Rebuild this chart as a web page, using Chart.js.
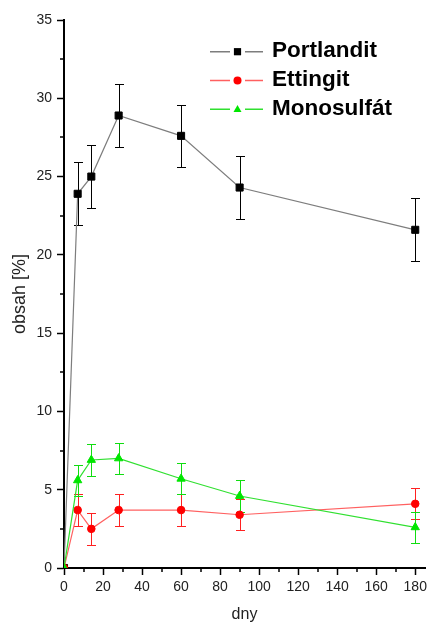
<!DOCTYPE html>
<html>
<head>
<meta charset="utf-8">
<title>obsah [%]</title>
<script src="https://cdn.jsdelivr.net/npm/chart.js@4.4.0/dist/chart.umd.min.js"></script>
<style>
    html, body { margin: 0; padding: 0; background: #fff; }
    #chart { display: block; }
</style>
</head>
<body>
<canvas id="chart" width="431" height="624"></canvas>
<script>
// ==================== DATA ====================
const days = [0, 7, 14, 28, 60, 90, 180];
const portlandit = [0, 23.9, 25.0, 28.9, 27.6, 24.3, 21.6];
const portlanditErr = [0, 2, 2, 2, 2, 2, 2];
const ettingit = [0, 3.7, 2.5, 3.7, 3.7, 3.4, 4.1];
const ettingitErr = [0, 1, 1, 1, 1, 1, 1];
const monosulfat = [0, 5.6, 6.9, 7.0, 5.7, 4.6, 2.6];
const monosulfatErr = [0, 1, 1, 1, 1, 1, 1];
const xTicks = [0, 20, 40, 60, 80, 100, 120, 140, 160, 180];
const yTicks = [0, 5, 10, 15, 20, 25, 30, 35];

const FONT = '"Liberation Sans", Arial, sans-serif';
Chart.defaults.font.family = FONT;

function toPoints(values) {
    return days.map((d, i) => ({ x: d, y: values[i] }));
}

// small marker drawer, used by the legend
function drawMarker(ctx, style, color, cx, cy, r) {
    ctx.fillStyle = color;
    ctx.beginPath();
    if (style === 'rect') {
        ctx.rect(cx - r, cy - r, r * 2, r * 2);
    } else if (style === 'triangle') {
        ctx.moveTo(cx, cy - r * 1.1);
        ctx.lineTo(cx + r, cy + r * 0.7);
        ctx.lineTo(cx - r, cy + r * 0.7);
        ctx.closePath();
    } else {
        ctx.arc(cx, cy, r, 0, Math.PI * 2);
    }
    ctx.fill();
}

// ==================== PLUGINS ====================
const errorBars = {
    id: 'errorBars',
    beforeDatasetsDraw(chart) {
        const { ctx, scales: { x, y } } = chart;
        chart.data.datasets.forEach((ds, i) => {
            if (!chart.isDatasetVisible(i) || !ds.errors) return;
            ctx.save();
            ctx.strokeStyle = ds.errorColor;
            ctx.lineWidth = 1;
            ctx.beginPath();
            ds.data.forEach((p, j) => {
                const e = ds.errors[j];
                if (!e) return;
                const px = Math.round(x.getPixelForValue(p.x)) + 0.5;
                const top = Math.round(y.getPixelForValue(p.y + e)) + 0.5;
                const bot = Math.round(y.getPixelForValue(p.y - e)) + 0.5;
                ctx.moveTo(px, top); ctx.lineTo(px, bot);
                ctx.moveTo(px - 4.5, top); ctx.lineTo(px + 4.5, top);
                ctx.moveTo(px - 4.5, bot); ctx.lineTo(px + 4.5, bot);
            });
            ctx.stroke();
            ctx.restore();
        });
    }
};

const minorTicks = {
    id: 'minorTicks',
    afterDraw(chart) {
        const { ctx, chartArea, scales: { x, y } } = chart;
        ctx.save();
        ctx.strokeStyle = '#000';
        ctx.lineWidth = 1.5;
        ctx.beginPath();
        for (let i = 0; i < xTicks.length - 1; i++) {
            const px = Math.round(x.getPixelForValue((xTicks[i] + xTicks[i + 1]) / 2));
            ctx.moveTo(px, chartArea.bottom); ctx.lineTo(px, chartArea.bottom + 4);
        }
        for (let i = 0; i < yTicks.length - 1; i++) {
            const py = Math.round(y.getPixelForValue((yTicks[i] + yTicks[i + 1]) / 2));
            ctx.moveTo(chartArea.left, py); ctx.lineTo(chartArea.left - 4, py);
        }
        ctx.stroke();
        ctx.restore();
    }
};

const insideLegend = {
    id: 'insideLegend',
    afterDraw(chart) {
        const { ctx } = chart;
        ctx.save();
        chart.data.datasets.forEach((ds, i) => {
            const cy = 51.7 + i * 28.8;
            ctx.strokeStyle = ds.borderColor;
            ctx.lineWidth = 1.5;
            ctx.beginPath();
            ctx.moveTo(210, cy); ctx.lineTo(230, cy);
            ctx.moveTo(245, cy); ctx.lineTo(263, cy);
            ctx.stroke();
            drawMarker(ctx, ds.pointStyle, ds.pointBackgroundColor, 237.5, cy, ds.pointStyle === 'rect' ? 3.6 : 4);
            ctx.fillStyle = '#000';
            ctx.font = 'bold 22.5px ' + FONT;
            ctx.textBaseline = 'middle';
            ctx.textAlign = 'left';
            ctx.fillText(ds.label, 272, cy - 1);
        });
        ctx.restore();
    }
};

// ==================== CHART ====================
new Chart(document.getElementById('chart'), {
    type: 'line',
    data: {
        datasets: [
            {
                label: 'Portlandit', data: toPoints(portlandit), errors: portlanditErr, errorColor: '#000',
                borderColor: '#7d7d7d', borderWidth: 1.2, pointStyle: 'rect', pointRadius: 5,
                pointBackgroundColor: '#000', pointBorderColor: '#000', pointBorderWidth: 1, order: 3, clip: 0
            },
            {
                label: 'Ettingit', data: toPoints(ettingit), errors: ettingitErr, errorColor: '#ff2020',
                borderColor: '#ff6060', borderWidth: 1.2, pointStyle: 'circle', pointRadius: 3.8,
                pointBackgroundColor: '#ff0000', pointBorderColor: '#ff0000', pointBorderWidth: 1, order: 2, clip: 0
            },
            {
                label: 'Monosulfát', data: toPoints(monosulfat), errors: monosulfatErr, errorColor: '#10dd10',
                borderColor: '#30e030', borderWidth: 1.2, pointStyle: 'triangle', pointRadius: 4.8,
                pointBackgroundColor: '#00e600', pointBorderColor: '#00e600', pointBorderWidth: 1, order: 1, clip: 0
            }
        ]
    },
    options: {
        responsive: false,
        animation: false,
        events: [],
        layout: { padding: { top: 20, right: 2, left: 0, bottom: 0 } },
        plugins: { legend: { display: false }, tooltip: { enabled: false } },
        scales: {
            x: {
                type: 'linear', min: 0, max: 185,
                afterBuildTicks: s => { s.ticks = xTicks.map(v => ({ value: v })); },
                afterFit: s => { s.height = 56; s.paddingLeft = 0; s.paddingRight = 0; },
                border: { display: true, color: '#000', width: 2 },
                grid: { drawOnChartArea: false, drawTicks: true, tickLength: 7, tickColor: '#000', tickWidth: 1.5 },
                ticks: { color: '#222', font: { size: 14 }, padding: 4, maxRotation: 0, autoSkip: false },
                title: { display: true, text: 'dny', color: '#222', font: { size: 16 }, padding: 0 }
            },
            y: {
                type: 'linear', min: 0, max: 35,
                afterBuildTicks: s => { s.ticks = yTicks.map(v => ({ value: v })); },
                afterFit: s => { s.width = 64; s.paddingTop = 0; s.paddingBottom = 0; },
                border: { display: true, color: '#000', width: 2 },
                grid: { drawOnChartArea: false, drawTicks: true, tickLength: 7, tickColor: '#000', tickWidth: 1.5 },
                ticks: { color: '#222', font: { size: 14 }, padding: 5, autoSkip: false },
                title: { display: true, text: 'obsah [%]', color: '#222', font: { size: 18 }, padding: { top: 9, bottom: 0 } }
            }
        }
    },
    plugins: [errorBars, minorTicks, insideLegend]
});
</script>
</body>
</html>
